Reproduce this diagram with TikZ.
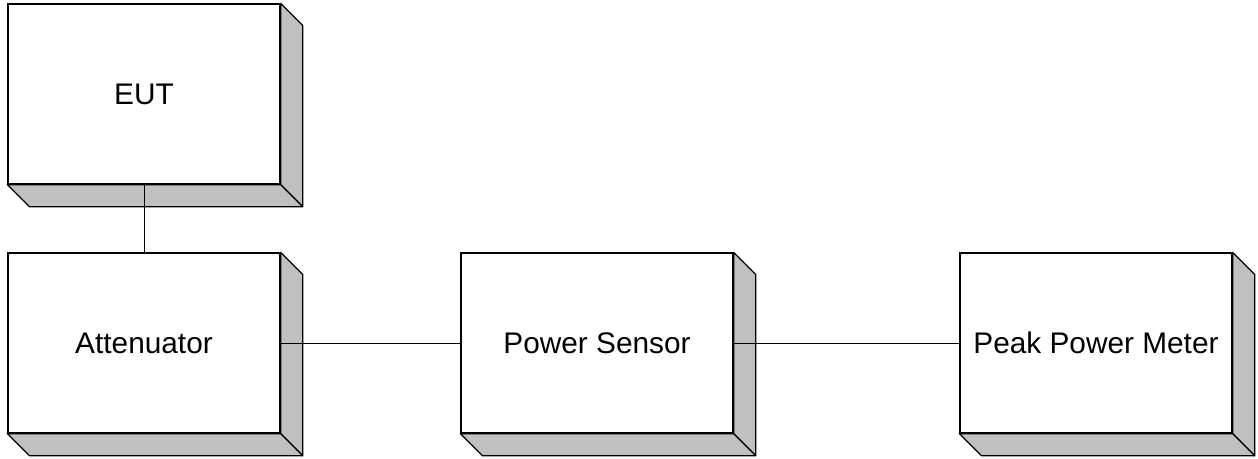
\documentclass[tikz,border=0pt]{standalone}
\usepackage{fontspec}
\setmainfont{Liberation Sans}
\usetikzlibrary{calc}
\definecolor{sidegray}{RGB}{192,192,192}
\tikzset{
  unitbox/.style={draw, line width=1.3pt, fill=white, minimum width=272pt, minimum height=180pt, inner sep=0pt, font=\fontsize{29.8}{34}\selectfont},
  face/.style={draw, line width=1.3pt, fill=sidegray, line join=round},
  wire/.style={line width=0.9pt}
}
\begin{document}
\begin{tikzpicture}[x=1pt,y=-1pt]
\useasboundingbox (0,0) rectangle (1258,458);
\node[unitbox] (eut) at (144,94) {EUT};
\node[unitbox] (att) at (144,343) {Attenuator};
\node[unitbox] (sen) at (597,343) {Power Sensor};
\node[unitbox] (ppm) at (1096,343) {Peak Power Meter};
\foreach \n in {eut,att,sen,ppm} {
  \draw[face] (\n.north east) -- ($(\n.north east)+(22,22)$) -- ($(\n.south east)+(22,22)$) -- (\n.south east) -- cycle;
  \draw[face] (\n.south west) -- ($(\n.south west)+(22,22)$) -- ($(\n.south east)+(22,22)$) -- (\n.south east) -- cycle;
}
\draw[wire] (eut.south) -- (att.north);
\draw[wire] (att.east) -- (sen.west);
\draw[wire] (sen.east) -- (ppm.west);
\end{tikzpicture}
\end{document}
